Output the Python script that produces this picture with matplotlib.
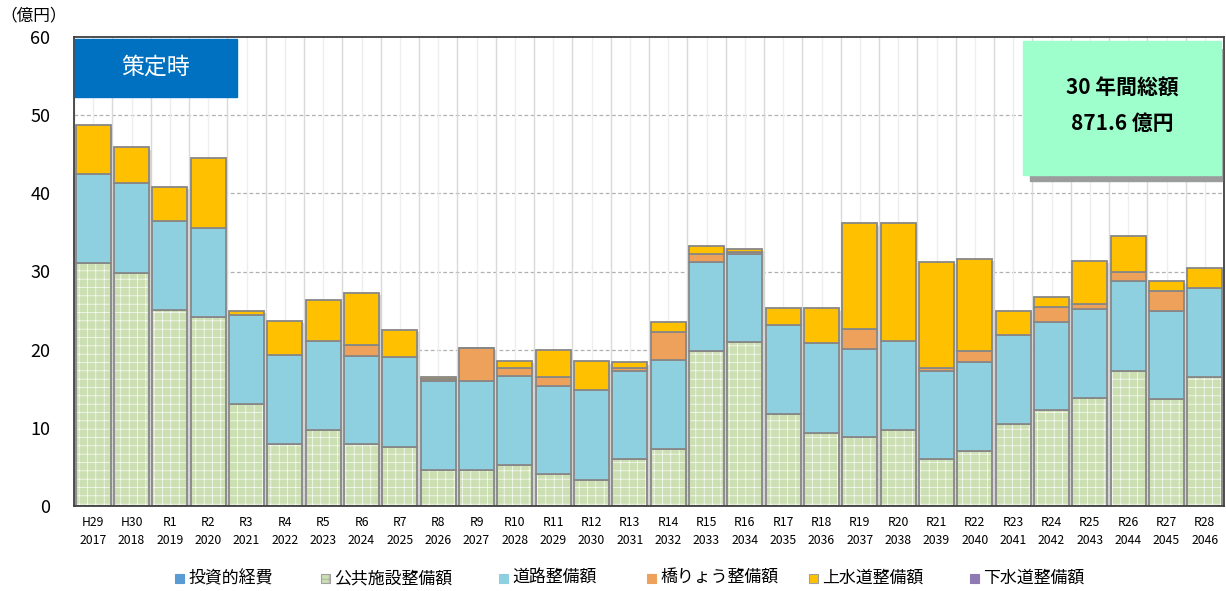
import matplotlib
matplotlib.use("Agg")
import matplotlib.pyplot as plt
from matplotlib.patches import Rectangle
import numpy as np

plt.rcParams['font.family'] = ['Noto Sans CJK JP', 'DejaVu Sans']
plt.rcParams['hatch.linewidth'] = 0.45

era = ["H29", "H30", "R1", "R2", "R3", "R4", "R5", "R6", "R7", "R8",
       "R9", "R10", "R11", "R12", "R13", "R14", "R15", "R16", "R17", "R18",
       "R19", "R20", "R21", "R22", "R23", "R24", "R25", "R26", "R27", "R28"]
years = [str(y) for y in range(2017, 2047)]

# cumulative boundaries (億円)
top_public = [31.1, 29.85, 25.1, 24.2, 13.0, 7.9, 9.7, 7.9, 7.6, 4.6,
              4.6, 5.3, 4.15, 3.3, 6.0, 7.35, 19.8, 21.0, 11.8, 9.4,
              8.8, 9.7, 6.0, 7.1, 10.45, 12.3, 13.8, 17.3, 13.65, 16.55]
top_road = [42.5, 41.3, 36.5, 35.6, 24.4, 19.3, 21.15, 19.2, 19.05, 15.95,
            16.0, 16.6, 15.4, 14.8, 17.3, 18.7, 31.2, 32.3, 23.15, 20.8,
            20.1, 21.15, 17.25, 18.4, 21.9, 23.6, 25.15, 28.75, 24.95, 27.9]
top_bridge = [42.5, 41.3, 36.5, 35.6, 24.4, 19.3, 21.15, 20.55, 19.05, 16.25,
              20.25, 17.6, 16.45, 14.8, 17.7, 22.25, 32.2, 32.5, 23.15, 20.8,
              22.7, 21.15, 17.7, 19.8, 21.9, 25.5, 25.8, 29.95, 27.55, 27.9]
top_water = [48.7, 45.9, 40.85, 44.5, 25.0, 23.7, 26.4, 27.3, 22.5, 16.5,
             20.25, 18.55, 19.9, 18.5, 18.4, 23.5, 33.3, 32.9, 25.3, 25.3,
             36.15, 36.15, 31.25, 31.6, 24.95, 26.8, 31.35, 34.6, 28.75, 30.5]

investment = np.zeros(30)
public = np.array(top_public)
road = np.array(top_road) - public
bridge = np.array(top_bridge) - np.array(top_road)
water = np.array(top_water) - np.array(top_bridge)
sewer = np.zeros(30)

series_names = ["投資的経費", "公共施設整備額", "道路整備額", "橋りょう整備額", "上水道整備額", "下水道整備額"]
c_inv = "#5b9bd5"
c_pub = "#cbdfb3"
c_road = "#8ed0e0"
c_bridge = "#eea15a"
c_water = "#ffc000"
c_sewer = "#8f7ab3"
edge = "#878787"

W, H = 1226, 591
fig = plt.figure(figsize=(W / 100, H / 100), dpi=100)
ax = fig.add_axes([74 / W, 1 - 506 / H, 1150 / W, 469 / H])

x = np.arange(30)
w = 0.92

ax.set_ylim(0, 60)
ax.set_xlim(-0.5, 29.5)
for yv in [10, 20, 30, 40, 50]:
    ax.axhline(yv, color="#b0b0b0", lw=0.9, ls=(0, (3, 2)), zorder=0)
for xv in np.arange(-0.5, 30, 1.0):
    ax.axvline(xv, color="#d9d9d9", lw=1.0, zorder=0)
for xv in x:
    ax.axvline(xv, color="#eeeeee", lw=1.0, zorder=0)

# shadows
ax.bar(x + 0.07, top_water, width=w, bottom=-0.3, color="#d4d4d4", lw=0, zorder=1)

# public (hatched)
ax.bar(x, public, width=w, color=c_pub, edgecolor="white", hatch="++", lw=0, zorder=2)
ax.bar(x, public, width=w, fill=False, edgecolor=edge, lw=1.3, zorder=3)
ax.bar(x, road, width=w, bottom=public, color=c_road, edgecolor=edge, lw=1.3, zorder=3)
b2 = public + road
ax.bar(x, bridge, width=w, bottom=b2, color=c_bridge, edgecolor=edge, lw=1.3, zorder=3)
b3 = b2 + bridge
ax.bar(x, water, width=w, bottom=b3, color=c_water, edgecolor=edge, lw=1.3, zorder=3)

ax.set_yticks([0, 10, 20, 30, 40, 50, 60])
ax.tick_params(axis='y', length=0, labelsize=13, pad=17, colors="#000000")
ax.set_xticks(x)
ax.set_xticklabels([f"{e}\n{y}" for e, y in zip(era, years)], fontsize=8.8, linespacing=1.5)
ax.tick_params(axis='x', length=0, pad=7)
for s in ax.spines.values():
    s.set_color("#404040")
    s.set_linewidth(1.3)
    s.set_zorder(5)

fig.text(0.0, 1 - 16 / H, "（億円）", fontsize=12, ha="left", va="center")

# title box
fig.patches.append(Rectangle((75 / W, 1 - 97 / H), (237 - 75) / W, (97 - 39) / H,
                             transform=fig.transFigure, color="#0070c0", zorder=6))
fig.text(156 / W, 1 - 67 / H, "策定時", fontsize=16.5, color="white", ha="center", va="center", zorder=7)

# total box
fig.patches.append(Rectangle((1030 / W, 1 - 181 / H), (1222 - 1030) / W, (181 - 49) / H,
                             transform=fig.transFigure, color="#9c9c9c", zorder=6))
fig.patches.append(Rectangle((1023 / W, 1 - 175 / H), (1221 - 1023) / W, (175 - 41) / H,
                             transform=fig.transFigure, color="#9effcc", zorder=6))
fig.text(1122 / W, 1 - 88 / H, "30 年間総額", fontsize=15, fontweight="bold", ha="center", va="center", zorder=7)
fig.text(1122 / W, 1 - 123 / H, "871.6 億円", fontsize=15, fontweight="bold", ha="center", va="center", zorder=7)

# legend (manual placement)
leg_x = [175, 321, 499, 647, 809, 970]
leg_fc = [c_inv, c_pub, c_road, c_bridge, c_water, c_sewer]
leg_ec = [c_inv, "#a0a0a0", c_road, c_bridge, "#a0a0a0", c_sewer]
leg_hatch = [None, "++", None, None, None, None]
ly = 578
for lx, fc, ec, hh, name in zip(leg_x, leg_fc, leg_ec, leg_hatch, series_names):
    fig.patches.append(Rectangle((lx / W, 1 - (ly + 4.5) / H), 9 / W, 9 / H,
                                 transform=fig.transFigure, facecolor=fc, edgecolor=ec,
                                 hatch=hh, lw=0.8))
    fig.text((lx + 13) / W, 1 - ly / H, name, fontsize=12.2, ha="left", va="center")

fig.savefig("out.png", dpi=100)
